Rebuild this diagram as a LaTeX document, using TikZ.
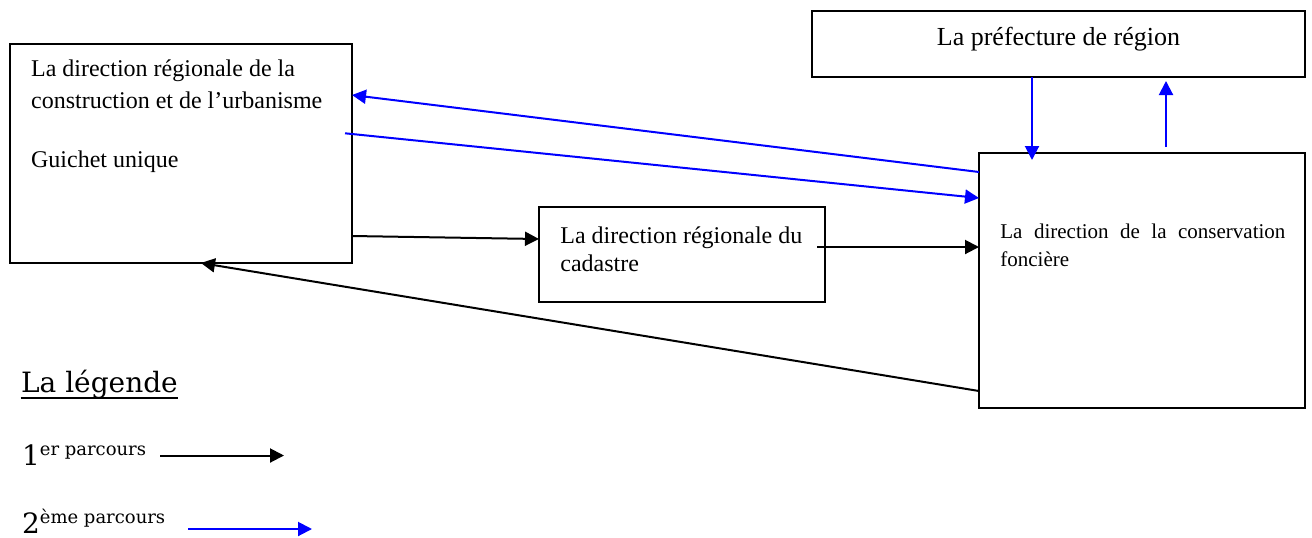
\documentclass[tikz,border=0pt]{standalone}
\usepackage{fontspec}
\setmainfont{Liberation Serif}
\newfontfamily\legfont{DejaVu Serif}
\usetikzlibrary{arrows.meta}

\begin{document}
\begin{tikzpicture}[x=0.5pt,y=-0.5pt,>={Triangle[length=7pt,width=7pt]}]
	\tikzstyle{boite} = [draw,line width=0.9pt,inner sep=0pt,outer sep=0pt]
	\tikzstyle{texte} = [inner sep=0pt,anchor=base west,align=left]
	\tikzstyle{noir} = [->,line width=1pt]
	\tikzstyle{bleu} = [->,line width=1pt,blue]
	
	\useasboundingbox (0,0) rectangle (1312,537);
	
	% les services
	\node[boite,minimum width=171pt,minimum height=109.5pt] (gu) at (181,153.5) {};
	\node[boite,minimum width=246.5pt,minimum height=33pt] (pr) at (1058.5,44) {};
	\node[boite,minimum width=143pt,minimum height=47.5pt] (ca) at (682,254.5) {};
	\node[boite,minimum width=163pt,minimum height=127.5pt] (cf) at (1142,280.5) {};
	
	% texte multiligne : base = derniere ligne
	\node[texte,font=\fontsize{12}{15.8}\selectfont] (tgu) at (30.7,167.7) {La direction régionale de la\\construction et de l’urbanisme\\[13.9pt]Guichet unique};
	\node[texte,anchor=base,font=\fontsize{13}{15}\selectfont] (tpr) at (1058.5,45) {La préfecture de région};
	\node[texte,font=\fontsize{12}{14.3}\selectfont] (tca) at (560,271.7) {La direction régionale du\\cadastre};
	\node[texte,text width=142.5pt,align=justify,font=\fontsize{10.5}{13.9}\selectfont] (tcf) at (1000,238.3) {La direction de la conservation foncière};
	
	% les parcours
	\path (cf.west |- 0,172) edge[bleu] (gu.east |- 0,95);
	\path (gu.east |- 0,134) edge[bleu,shorten <=-3.5pt] (cf.west |- 0,198);
	\path (1032,0 |- pr.south) edge[bleu,shorten >=-3.5pt] (1032,0 |- cf.north);
	\path (1166,0 |- cf.north) edge[bleu,shorten <=3pt,shorten >=2pt] (1166,0 |- pr.south);
	\path (gu.east |- 0,236) edge[noir] (ca.west |- 0,239);
	\path (ca.east |- 0,247) edge[noir,shorten <=-4pt] (cf.west |- 0,247);
	\path (cf.west |- 0,391) edge[noir] (201,0 |- gu.south);
	
	% la legende
	\node[texte,font=\legfont\fontsize{14}{16}\selectfont] (leg) at (20.7,392) {La légende};
	\draw[line width=0.7pt] ([yshift=-3pt]leg.base west) -- ([yshift=-3pt]leg.base east);
	\node[texte,font=\legfont\fontsize{14}{16}\selectfont] (p1) at (21.7,465) {1\raisebox{5pt}{\fontsize{9}{10}\selectfont er parcours}};
	\node[texte,font=\legfont\fontsize{14}{16}\selectfont] (p2) at (21.7,533) {2\raisebox{5pt}{\fontsize{9}{10}\selectfont ème parcours}};
	\coordinate (n1) at (160,455.5);
	\coordinate (n2) at (284,455.5);
	\coordinate (b1) at (188,529);
	\coordinate (b2) at (312,529);
	\path (n1) edge[noir] (n2);
	\path (b1) edge[bleu] (b2);
\end{tikzpicture}
\end{document}
